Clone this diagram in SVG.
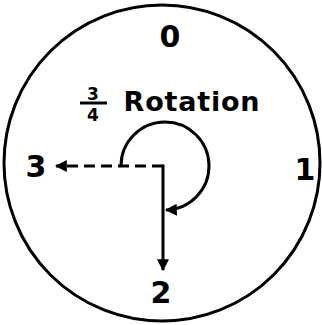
<svg xmlns="http://www.w3.org/2000/svg" width="322" height="325" viewBox="0 0 322 325">
<style>
.lbl{font-family:"DejaVu Sans","Liberation Sans",sans-serif;font-weight:bold;fill:#000;text-anchor:middle}
.ln{stroke:#000;stroke-width:3;fill:none}
</style>
<defs>
<marker id="ah2" viewBox="0 0 10 10" refX="9" refY="5" markerWidth="4" markerHeight="4" orient="auto">
<path d="M0,0 L10,5 L0,10 z" fill="#000"/>
</marker>
</defs>
<rect width="322" height="325" fill="#fff"/>
<g id="dial">
<ellipse cx="162" cy="163" rx="158" ry="158" class="ln"/>
</g>
<g id="label0"><text class="lbl" x="170" y="47" font-size="30">0</text></g>
<g id="label1"><text class="lbl" x="305" y="180" font-size="30">1</text></g>
<g id="label2"><text class="lbl" x="161" y="303" font-size="30">2</text></g>
<g id="label3"><text class="lbl" x="36" y="177" font-size="30">3</text></g>
<g id="title">
<text class="lbl" x="93" y="100" font-size="17">3</text>
<line x1="80" y1="103" x2="107" y2="103" stroke="#000" stroke-width="3"/>
<text class="lbl" x="93" y="121" font-size="17">4</text>
<text class="lbl" x="192" y="111" font-size="27" letter-spacing="0.8">Rotation</text>
</g>
<g id="connectors">
<line x1="163" y1="166" x2="56" y2="166" class="ln" stroke-dasharray="11,6" marker-end="url(#ah2)"/>
<line x1="163" y1="164.5" x2="163" y2="270" class="ln" marker-end="url(#ah2)"/>
<path d="M121,166 A44,44 0 1 1 166,210" class="ln" marker-end="url(#ah2)"/>
</g>
</svg>
